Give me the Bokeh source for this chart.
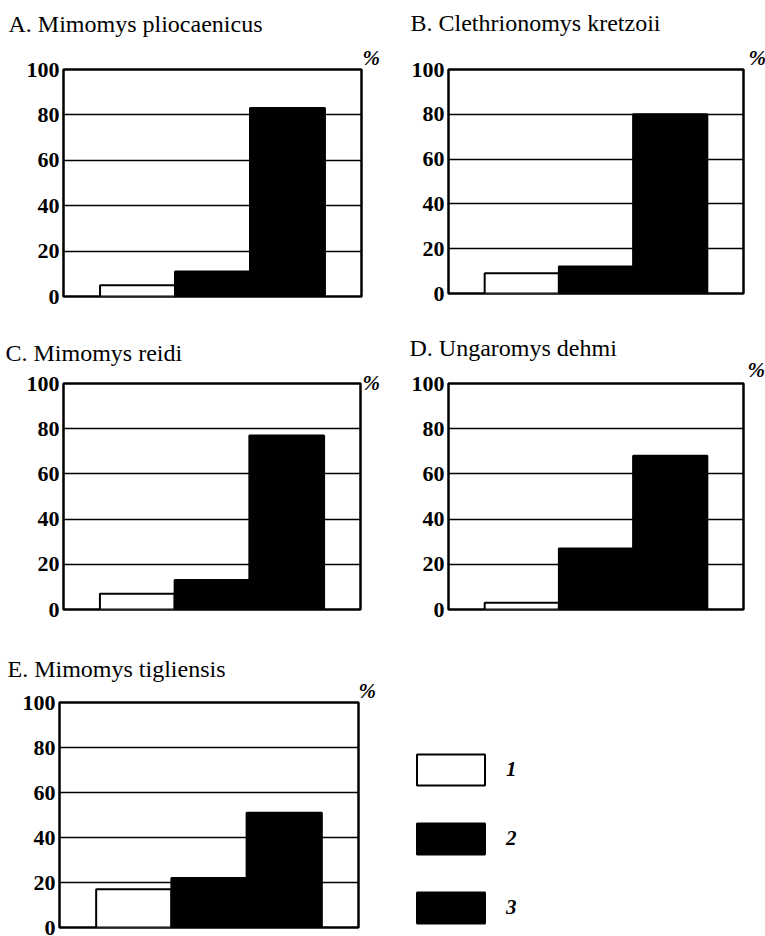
from bokeh.plotting import figure
from bokeh.layouts import column, row
from bokeh.models import (ColumnDataSource, FactorRange, Range1d, Title, Legend,
                          LegendItem, FixedTicker)
from bokeh.embed import file_html
from bokeh.resources import INLINE

# ---------------- data ----------------
species = ["A. Mimomys pliocaenicus", "B. Clethrionomys kretzoii",
           "C. Mimomys reidi", "D. Ungaromys dehmi", "E. Mimomys tigliensis"]
classes = ["1", "2", "3"]
pct_class1 = [5, 9, 7, 3, 17]
pct_class2 = [11, 12, 13, 27, 22]
pct_class3 = [83, 80, 77, 68, 51]
y_ticks = [0, 20, 40, 60, 80, 100]
class_colors = ["white", "black", "black"]
unit_label = "%"

SERIF = "Liberation Serif"

# per panel layout: border left, top, right, bottom, frame w, frame h,
# title dx, title standoff, % dx, % standoff
layout_specs = [
    (63, 69, 19, 14, 298, 227, -55, 16, 1, -1),
    (68, 69, 22, 17, 295, 224, -38, 15, 5, 0),
    (63, 73, 20, 11, 297, 226, -58, 28, 2, -22),
    (68, 73, 22, 11, 295, 226, -39, -13, 4, 3),
    (59, 82, 180, 8, 299, 225, -52, -10, 0, 0),
]

try:
    Title(text="x", standoff=-1)
    ALLOW_NEG = True
except Exception:
    ALLOW_NEG = False


def standoffs(tst, pst):
    if ALLOW_NEG:
        return tst, pst
    p2 = max(0, pst)
    t2 = max(0, tst + 2 * (pst - p2))
    return t2, p2


def make_panel(i):
    bl, bt, br, bb, fw, fh, tdx, tst, pdx, pst = layout_specs[i]
    tst, pst = standoffs(tst, pst)
    p = figure(x_range=FactorRange(factors=classes, range_padding=0.325),
               y_range=Range1d(0, 100), title=None,
               frame_width=fw, frame_height=fh,
               min_border_left=bl, min_border_top=bt,
               min_border_right=br, min_border_bottom=bb,
               x_axis_location=None, output_backend="svg",
               toolbar_location=None, background_fill_color="white",
               border_fill_color="white")
    vals = [pct_class1[i], pct_class2[i], pct_class3[i]]
    src = ColumnDataSource(dict(cls=classes, pct=vals, color=class_colors))
    r = p.vbar(x="cls", top="pct", width=1.0, bottom=0, source=src,
               fill_color="color", line_color="black", line_width=2)

    p.xgrid.visible = False
    p.ygrid.ticker = FixedTicker(ticks=y_ticks)
    p.ygrid.grid_line_color = "black"
    p.ygrid.grid_line_width = 1.6

    ax = p.yaxis[0]
    ax.ticker = FixedTicker(ticks=y_ticks)
    ax.axis_line_color = None
    ax.major_tick_line_color = None
    ax.minor_tick_line_color = None
    ax.major_tick_out = 0
    ax.major_tick_in = 0
    ax.major_label_standoff = 4
    ax.major_label_text_font = SERIF
    ax.major_label_text_font_size = "22px"
    ax.major_label_text_font_style = "bold"
    ax.major_label_text_color = "black"

    p.outline_line_color = "black"
    p.outline_line_width = 2.5
    p.outline_line_alpha = 1.0

    # "%" first (nearest the frame), species title above it
    p.add_layout(Title(text=unit_label, align="left", offset=fw + pdx,
                       standoff=pst, text_font=SERIF, text_font_size="21px",
                       text_font_style="bold italic", text_color="black"),
                 "above")
    p.add_layout(Title(text=species[i], align="left", offset=tdx,
                       standoff=tst, text_font=SERIF, text_font_size="24px",
                       text_font_style="normal", text_color="black"),
                 "above")
    return p, r


panels = [make_panel(i) for i in range(5)]

pE, rE = panels[4]
legend = Legend(items=[LegendItem(label=c, renderers=[rE], index=k)
                       for k, c in enumerate(classes)],
                location=(50, 0), orientation="vertical",
                glyph_width=85, glyph_height=39, spacing=30,
                padding=0, margin=0, label_standoff=13,
                border_line_color=None, background_fill_alpha=0,
                label_text_font=SERIF, label_text_font_size="21px",
                label_text_font_style="bold italic", label_text_color="black")
pE.add_layout(legend, "right")

layout = column(row(panels[0][0], panels[1][0]),
                row(panels[2][0], panels[3][0]),
                pE)

open("out.html", "w").write(file_html(layout, INLINE))
